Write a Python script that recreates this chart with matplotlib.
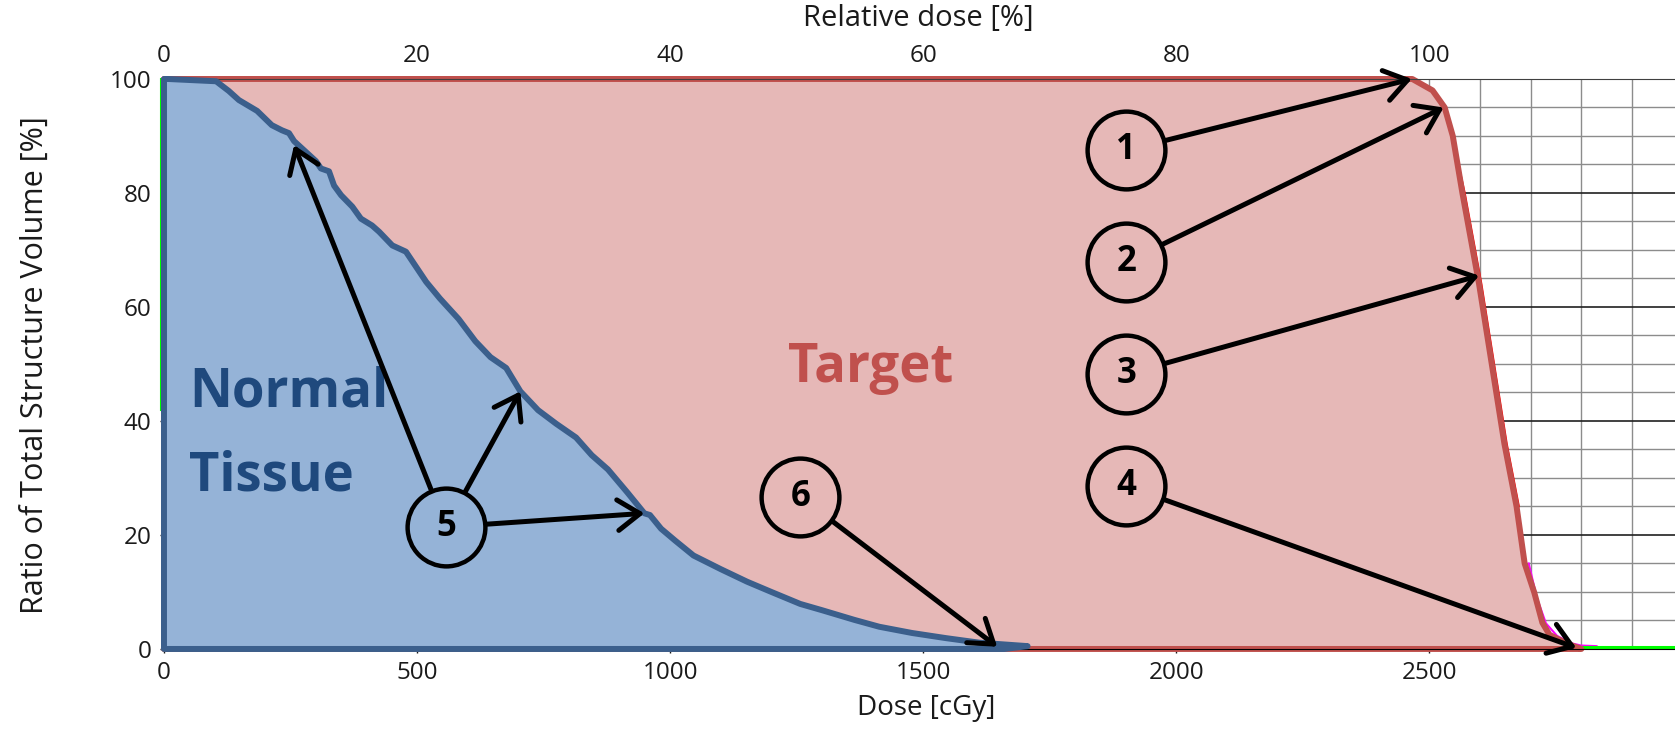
"""DVH figure: target vs normal tissue with numbered callouts."""

import matplotlib
matplotlib.use("Agg")
import matplotlib.pyplot as plt
import matplotlib.transforms as mtransforms
import numpy as np

# --- data (dose in cGy, volume in %) ---------------------------------------
target_dose = [0, 0, 2466, 2506, 2530, 2546, 2565, 2598, 2648, 2672, 2688,
               2707, 2723, 2737, 2770, 2800]
target_vol = [0, 100, 100, 98, 95, 90, 80, 64, 36, 25, 15, 9.9, 4.6, 2.5, 1.0, 0]

normal_dose = [0, 0, 8, 103, 128, 148, 184, 213, 233, 247, 257, 300, 310, 326,
               336, 350, 372, 389, 411, 425, 451, 478, 518, 545, 582, 615, 645,
               676, 704, 739, 775, 814, 845, 877, 915, 949, 960, 982, 1010,
               1046, 1100, 1152, 1200, 1257, 1300, 1364, 1413, 1478, 1545,
               1611, 1706, 1660]
normal_vol = [0, 100, 100, 99.6, 97.9, 96.3, 94.4, 91.9, 91.0, 90.5, 89.1,
              85.6, 84.3, 83.8, 81.3, 79.6, 77.6, 75.5, 74.3, 73.2, 70.8, 69.7,
              64.4, 61.5, 57.9, 54.0, 51.2, 49.3, 45.2, 41.9, 39.5, 37.1, 34.0,
              31.5, 27.5, 23.8, 23.5, 21.1, 19.0, 16.4, 14.0, 11.8, 10.0, 7.9,
              6.8, 5.1, 3.9, 2.8, 1.9, 1.1, 0.5, 0]

# other structures peeking out behind the target curve
red_dose = [2545, 2570, 2603, 2653, 2677]
red_vol = [90, 80, 64, 36, 25]
magenta_dose = [2696, 2712, 2730, 2752, 2780, 2800, 2830]
magenta_vol = [15, 9, 4.5, 2.3, 1.0, 0.6, 0.5]
green_dose = [2800, 2990]
green_vol = [0.3, 0.3]
green_left_dose = [0, 0]
green_left_vol = [42, 100]

# numbered callouts
circle_labels = ["1", "2", "3", "4", "5", "6"]
circle_dose = [1901, 1901, 1901, 1901, 557, 1257]
circle_vol = [87.5, 67.9, 48.2, 28.6, 21.4, 26.7]

arrow_from = [0, 1, 2, 3, 4, 4, 4, 5]
arrow_dose = [2465, 2528, 2598, 2790, 257, 704, 949, 1646]
arrow_vol = [100, 95, 65.5, 0.2, 88.4, 45.2, 23.8, 0.4]

dose_ticks = [0, 500, 1000, 1500, 2000, 2500]
rel_ticks = [0, 20, 40, 60, 80, 100]
vol_ticks = [0, 20, 40, 60, 80, 100]
prescription = 2500  # cGy = 100 %

plt.rcParams["font.family"] = ["Open Sans", "DejaVu Sans"]

fig = plt.figure(figsize=(16.75, 7.3), dpi=100)
ax = fig.add_axes([0.0979, 0.111, 0.9021, 0.7808])

ax.set_xlim(0, 2985)
ax.set_ylim(0, 100)

# grid (only visible where the fills leave white)
ax.set_xticks(dose_ticks)
ax.set_yticks(vol_ticks)
ax.set_xticks(np.arange(0, 3000, 100), minor=True)
ax.set_yticks(np.arange(0, 101, 5), minor=True)
ax.grid(which="minor", color="#8c8c8c", lw=1.0, zorder=0)
ax.grid(which="major", axis="x", color="#8c8c8c", lw=1.0, zorder=0)
ax.grid(which="major", axis="y", color="#202020", lw=1.2, zorder=0)
ax.set_axisbelow(True)

ax.plot(red_dose, red_vol, color="#ff0000", lw=1.2, zorder=1.9)
ax.plot(magenta_dose, magenta_vol, color="#ff00ff", lw=1.5, zorder=1.9)
ax.fill(target_dose, target_vol, facecolor="#e6b8b7", edgecolor="#c0504d",
        lw=4.3, joinstyle="round", zorder=2, clip_on=False)
ax.plot(green_dose, green_vol, color="#00ff00", lw=2.2, zorder=1.9)
left_shift = mtransforms.offset_copy(ax.transData, fig=fig, x=-3, y=0, units="dots")
ax.plot(green_left_dose, green_left_vol, color="#00ff00", lw=1.5,
        transform=left_shift, clip_on=False, zorder=1.9)

ax.fill(normal_dose, normal_vol, facecolor="#95b3d7", edgecolor="#3b5f8c",
        lw=4.3, joinstyle="round", zorder=3, clip_on=False)

ax.text(50, 45.0, "Normal", color="#1f497d", fontsize=38,
        fontweight="bold", ha="left", va="center", zorder=4)
ax.text(50, 30.2, "Tissue", color="#1f497d", fontsize=38,
        fontweight="bold", ha="left", va="center", zorder=4)
ax.text(1397, 49.3, "Target", color="#c0504d", fontsize=38,
        fontweight="bold", ha="center", va="center", zorder=4)

for src, xd, yd in zip(arrow_from, arrow_dose, arrow_vol):
    ax.annotate("", xy=(xd, yd), xytext=(circle_dose[src], circle_vol[src]),
                arrowprops=dict(arrowstyle="->,head_length=0.8,head_width=0.55",
                                lw=3.6, color="black", shrinkA=29, shrinkB=0,
                                mutation_scale=20),
                zorder=5, annotation_clip=False)

ax.plot(circle_dose, circle_vol, "o", ms=56, mfc="none", mec="black", mew=3.2,
        zorder=6, clip_on=False)
for lab, xd, yd in zip(circle_labels, circle_dose, circle_vol):
    ax.text(xd, yd, lab, fontsize=25, fontweight="bold", ha="center",
            va="center", zorder=7)

# axes cosmetics
ax.spines["right"].set_visible(False)
ax.spines["top"].set_color("#404040")
ax.spines["left"].set_color("black")
ax.spines["bottom"].set_color("black")
ax.tick_params(which="major", length=3, width=1, labelsize=17.5, pad=6, colors="#1a1a1a")
ax.tick_params(which="minor", length=0)

secax = ax.secondary_xaxis("top", functions=(lambda d: d / prescription * 100,
                                             lambda r: r * prescription / 100))
secax.set_xticks(rel_ticks)
secax.tick_params(length=0, labelsize=17.5, pad=8, colors="#1a1a1a")
secax.spines["top"].set_visible(False)

fig.text(0.548, 0.974, "Relative dose [%]", ha="center", va="center",
         fontsize=21, color="#1a1a1a")
fig.text(0.553, 0.030, "Dose [cGy]", ha="center", va="center",
         fontsize=20, color="#1a1a1a")
fig.text(0.021, 0.50, "Ratio of Total Structure Volume [%]", ha="center",
         va="center", rotation=90, fontsize=22, color="#1a1a1a")

fig.savefig("out.png", dpi=100)
